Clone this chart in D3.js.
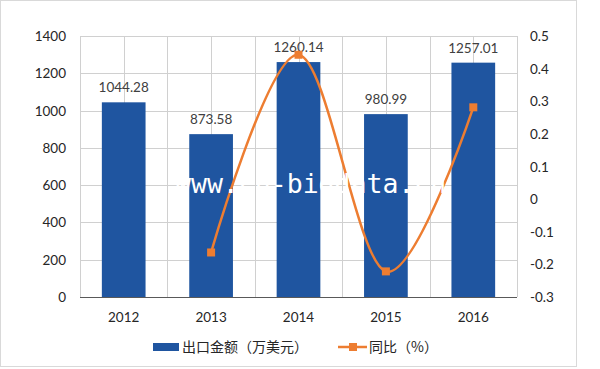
<!DOCTYPE html>
<html>
<head>
<meta charset="utf-8">
<script src="https://cdn.jsdelivr.net/npm/d3@7"></script>
<style>
  body { margin: 0; background: #fff; }
  text { font-family: Lato, "Noto Sans", sans-serif; }
  .cjk { font-family: "Noto Sans CJK SC", sans-serif; }
</style>
</head>
<body>
<script>
// data
var years = ["2012", "2013", "2014", "2015", "2016"];
var exportValue = [1044.28, 873.58, 1260.14, 980.99, 1257.01];   // 出口金额（万美元）
var yoyYears = ["2013", "2014", "2015", "2016"];
var yoyValue = [-0.1635, 0.4425, -0.2215, 0.2814];                 // 同比（%）
var leftTicks = [0, 200, 400, 600, 800, 1000, 1200, 1400];
var rightTicks = [-0.3, -0.2, -0.1, 0, 0.1, 0.2, 0.3, 0.4, 0.5];
var barName = "出口金额（万美元）";
var lineName = "同比（%）";

var width = 600, height = 369;
// plot box (note: "top" is taken by window.top)
var plotL = 80, plotR = 517, plotT = 36, plotB = 297;

var barColor = "#1f55a0";
var lineColor = "#ed7d31";
var gridColor = "#d0d0d0";

var svg = d3.select("body").append("svg")
    .attr("width", width)
    .attr("height", height);

// outer frame
svg.append("rect")
    .attr("x", 0.5).attr("y", 0.5)
    .attr("width", 576).attr("height", 366)
    .attr("fill", "#fff")
    .attr("stroke", "#d9d9d9");

var x = d3.scaleBand().domain(years).range([plotL, plotR]);
var y = d3.scaleLinear().domain([0, 1400]).range([plotB, plotT]);
var y2 = d3.scaleLinear().domain([-0.3, 0.5]).range([plotB, plotT]);

// horizontal grid
svg.append("g").selectAll("line")
    .data(leftTicks)
    .join("line")
    .attr("x1", plotL).attr("x2", plotR)
    .attr("y1", function(d) { return Math.round(y(d)) + 0.5; })
    .attr("y2", function(d) { return Math.round(y(d)) + 0.5; })
    .attr("stroke", gridColor);

// vertical grid, at category edges and centres
var vLines = [];
years.forEach(function(c) {
    vLines.push(x(c));
    vLines.push(x(c) + x.bandwidth() / 2);
});
vLines.push(plotR);
svg.append("g").selectAll("line")
    .data(vLines)
    .join("line")
    .attr("x1", function(d) { return Math.round(d) + 0.5; })
    .attr("x2", function(d) { return Math.round(d) + 0.5; })
    .attr("y1", plotT).attr("y2", plotB)
    .attr("stroke", gridColor);

// bars
var barW = x.bandwidth() * 0.5;
svg.append("g").selectAll("rect")
    .data(exportValue)
    .join("rect")
    .attr("x", function(d, i) { return x(years[i]) + (x.bandwidth() - barW) / 2; })
    .attr("y", function(d) { return y(d); })
    .attr("width", barW)
    .attr("height", function(d) { return plotB - y(d); })
    .attr("fill", barColor);

// bar labels
svg.append("g").selectAll("text")
    .data(exportValue)
    .join("text")
    .attr("x", function(d, i) { return x(years[i]) + x.bandwidth() / 2; })
    .attr("y", function(d) { return y(d) - 10; })
    .attr("text-anchor", "middle")
    .attr("font-size", 13.5)
    .attr("fill", "#404040")
    .text(function(d) { return d.toFixed(2); });

// baseline
svg.append("line")
    .attr("x1", plotL).attr("x2", plotR)
    .attr("y1", plotB + 0.5).attr("y2", plotB + 0.5)
    .attr("stroke", "#595959");

// left axis labels
svg.append("g").selectAll("text")
    .data(leftTicks)
    .join("text")
    .attr("x", 66)
    .attr("y", function(d) { return y(d) + 5; })
    .attr("text-anchor", "end")
    .attr("font-size", 13.5)
    .attr("fill", "#262626")
    .text(function(d) { return d; });

// right axis labels
svg.append("g").selectAll("text")
    .data(rightTicks)
    .join("text")
    .attr("x", 530)
    .attr("y", function(d) { return y2(d) + 5; })
    .attr("font-size", 13.5)
    .attr("fill", "#262626")
    .text(function(d) { return Math.abs(d) < 1e-9 ? "0" : d.toFixed(1); });

// category labels
svg.append("g").selectAll("text")
    .data(years)
    .join("text")
    .attr("x", function(d) { return x(d) + x.bandwidth() / 2; })
    .attr("y", 322)
    .attr("text-anchor", "middle")
    .attr("font-size", 13.5)
    .attr("fill", "#262626")
    .text(function(d) { return d; });

// yoy line, smoothed
var line = d3.line()
    .x(function(d, i) { return x(yoyYears[i]) + x.bandwidth() / 2; })
    .y(function(d) { return y2(d); })
    .curve(d3.curveCardinal.tension(0));

svg.append("path")
    .datum(yoyValue)
    .attr("d", line)
    .attr("fill", "none")
    .attr("stroke", lineColor)
    .attr("stroke-width", 2.5);

svg.append("g").selectAll("rect")
    .data(yoyValue)
    .join("rect")
    .attr("x", function(d, i) { return x(yoyYears[i]) + x.bandwidth() / 2 - 4; })
    .attr("y", function(d) { return y2(d) - 4; })
    .attr("width", 8).attr("height", 8)
    .attr("fill", lineColor);

// watermark, white over everything
svg.append("text")
    .attr("x", 175)
    .attr("y", 193)
    .style("font-family", "'DejaVu Sans Mono', monospace")
    .attr("font-size", 26.5)
    .attr("fill", "#fff")
    .text("www.cn-bigdata.cn");

// legend
var lg = svg.append("g");
lg.append("rect")
    .attr("x", 153).attr("y", 343)
    .attr("width", 26).attr("height", 8)
    .attr("fill", barColor);
lg.append("text")
    .attr("class", "cjk")
    .attr("x", 182).attr("y", 352)
    .attr("font-size", 14)
    .attr("fill", "#262626")
    .text(barName);
lg.append("line")
    .attr("x1", 338).attr("x2", 367)
    .attr("y1", 347).attr("y2", 347)
    .attr("stroke", lineColor)
    .attr("stroke-width", 2.5);
lg.append("rect")
    .attr("x", 349).attr("y", 343)
    .attr("width", 8).attr("height", 8)
    .attr("fill", lineColor);
lg.append("text")
    .attr("class", "cjk")
    .attr("x", 369).attr("y", 352)
    .attr("font-size", 14)
    .attr("fill", "#262626")
    .text(lineName);
</script>
</body>
</html>
